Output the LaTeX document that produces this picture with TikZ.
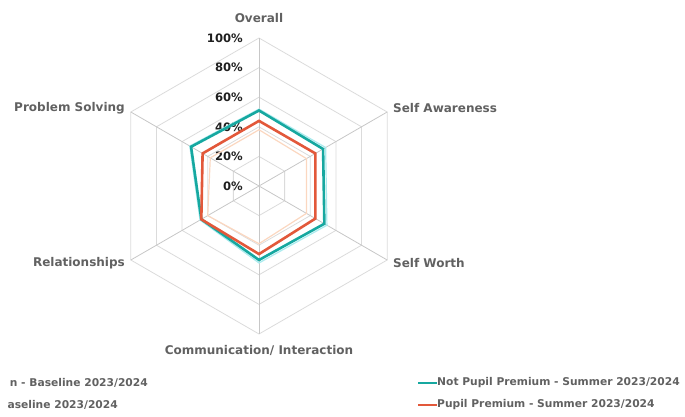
\documentclass[tikz,border=0pt]{standalone}
\usepackage{fontspec}
\newfontfamily\chartfont{DejaVu Sans}
\definecolor{npteal}{RGB}{22,168,160}
\definecolor{ppred}{RGB}{226,88,58}
\definecolor{npbase}{RGB}{170,235,238}
\definecolor{ppbase}{RGB}{251,215,192}

\tikzset{
  web/.style={draw=black!14, line width=0.8pt},
  spoke/.style={draw=black!22, line width=0.8pt},
  axislabel/.style={font=\chartfont\bfseries\fontsize{12}{14}\selectfont, text=black!62, inner sep=0pt},
  pct/.style={font=\chartfont\bfseries\fontsize{11.6}{13}\selectfont, text=black!88, inner sep=0pt, anchor=east},
  legendtext/.style={font=\chartfont\bfseries\fontsize{10.7}{12}\selectfont, text=black!62, inner sep=0pt},
  series/.style={line width=2.6pt, line join=miter},
  baseseries/.style={line width=1.2pt, line join=miter}
}

\begin{document}
\begin{tikzpicture}[x=1pt,y=1pt]
\useasboundingbox (-259,-231) rectangle (426,186);

\coordinate (O) at (0,0);
\coordinate (ov) at (90:148);
\coordinate (sa) at (30:148);
\coordinate (sw) at (-30:148);
\coordinate (ci) at (-90:148);
\coordinate (re) at (-150:148);
\coordinate (ps) at (150:148);

% web of the radar

\draw [web] (90:29.6)--(30:29.6)--(-30:29.6)--(-90:29.6)--(-150:29.6)--(150:29.6)--cycle;
\draw [web] (90:59.2)--(30:59.2)--(-30:59.2)--(-90:59.2)--(-150:59.2)--(150:59.2)--cycle;
\draw [web] (90:88.8)--(30:88.8)--(-30:88.8)--(-90:88.8)--(-150:88.8)--(150:88.8)--cycle;
\draw [web] (90:118.4)--(30:118.4)--(-30:118.4)--(-90:118.4)--(-150:118.4)--(150:118.4)--cycle;
\draw [web] (ov)--(sa)--(sw)--(ci)--(re)--(ps)--cycle;

\draw [spoke] (O)--(ov);
\draw [spoke] (O)--(sa);
\draw [spoke] (O)--(sw);
\draw [spoke] (O)--(ci);
\draw [spoke] (O)--(re);
\draw [spoke] (O)--(ps);

% scale

\node [pct] (p0) at (-16,0) {0\%};
\node [pct] (p20) at (-16,29.6) {20\%};
\node [pct] (p40) at (-16,59.2) {40\%};
\node [pct] (p60) at (-16,88.8) {60\%};
\node [pct] (p80) at (-16,118.4) {80\%};
\node [pct] (p100) at (-16,148) {100\%};

% axis names

\node [axislabel] (lov) at (0,168) {Overall};
\node [axislabel, anchor=west] (lsa) at (134,78) {Self Awareness};
\node [axislabel, anchor=west] (lsw) at (134,-77) {Self Worth};
\node [axislabel] (lci) at (0,-164) {Communication/ Interaction};
\node [axislabel, anchor=east] (lre) at (-134,-77) {Relationships};
\node [axislabel, anchor=east] (lps) at (-134,78) {Problem Solving};

% baseline 2023/2024

\draw [baseseries, npbase] (90:{52*1.48})--(30:{52*1.48})--(-30:{53*1.48})--(-90:{52*1.48})--(-150:{46*1.48})--(150:{54*1.48})--cycle;
\draw [baseseries, ppbase] (90:{38*1.48})--(30:{37*1.48})--(-30:{37*1.48})--(-90:{39*1.48})--(-150:{40*1.48})--(150:{38*1.48})--cycle;

% summer 2023/2024

\draw [series, npteal] (90:{51*1.48})--(30:{50*1.48})--(-30:{51*1.48})--(-90:{50*1.48})--(-150:{45*1.48})--(150:{53*1.48})--cycle;
\draw [series, ppred] (90:{44*1.48})--(30:{44*1.48})--(-30:{44*1.48})--(-90:{46*1.48})--(-150:{45*1.48})--(150:{44*1.48})--cycle;

% legend

\node [legendtext, anchor=east] (lg1) at (-111,-197) {n - Baseline 2023/2024};
\node [legendtext, anchor=east] (lg2) at (-141,-219) {aseline 2023/2024};

\coordinate (k3) at (159,-197);
\coordinate (k3e) at (178,-197);
\draw [npteal, line width=2.6pt] (k3)--(k3e);
\node [legendtext, anchor=west] (lg3) at (k3e) {Not Pupil Premium - Summer 2023/2024};

\coordinate (k4) at (159,-219);
\coordinate (k4e) at (178,-219);
\draw [ppred, line width=2.6pt] (k4)--(k4e);
\node [legendtext, anchor=west] (lg4) at (k4e) {Pupil Premium - Summer 2023/2024};

\end{tikzpicture}
\end{document}
